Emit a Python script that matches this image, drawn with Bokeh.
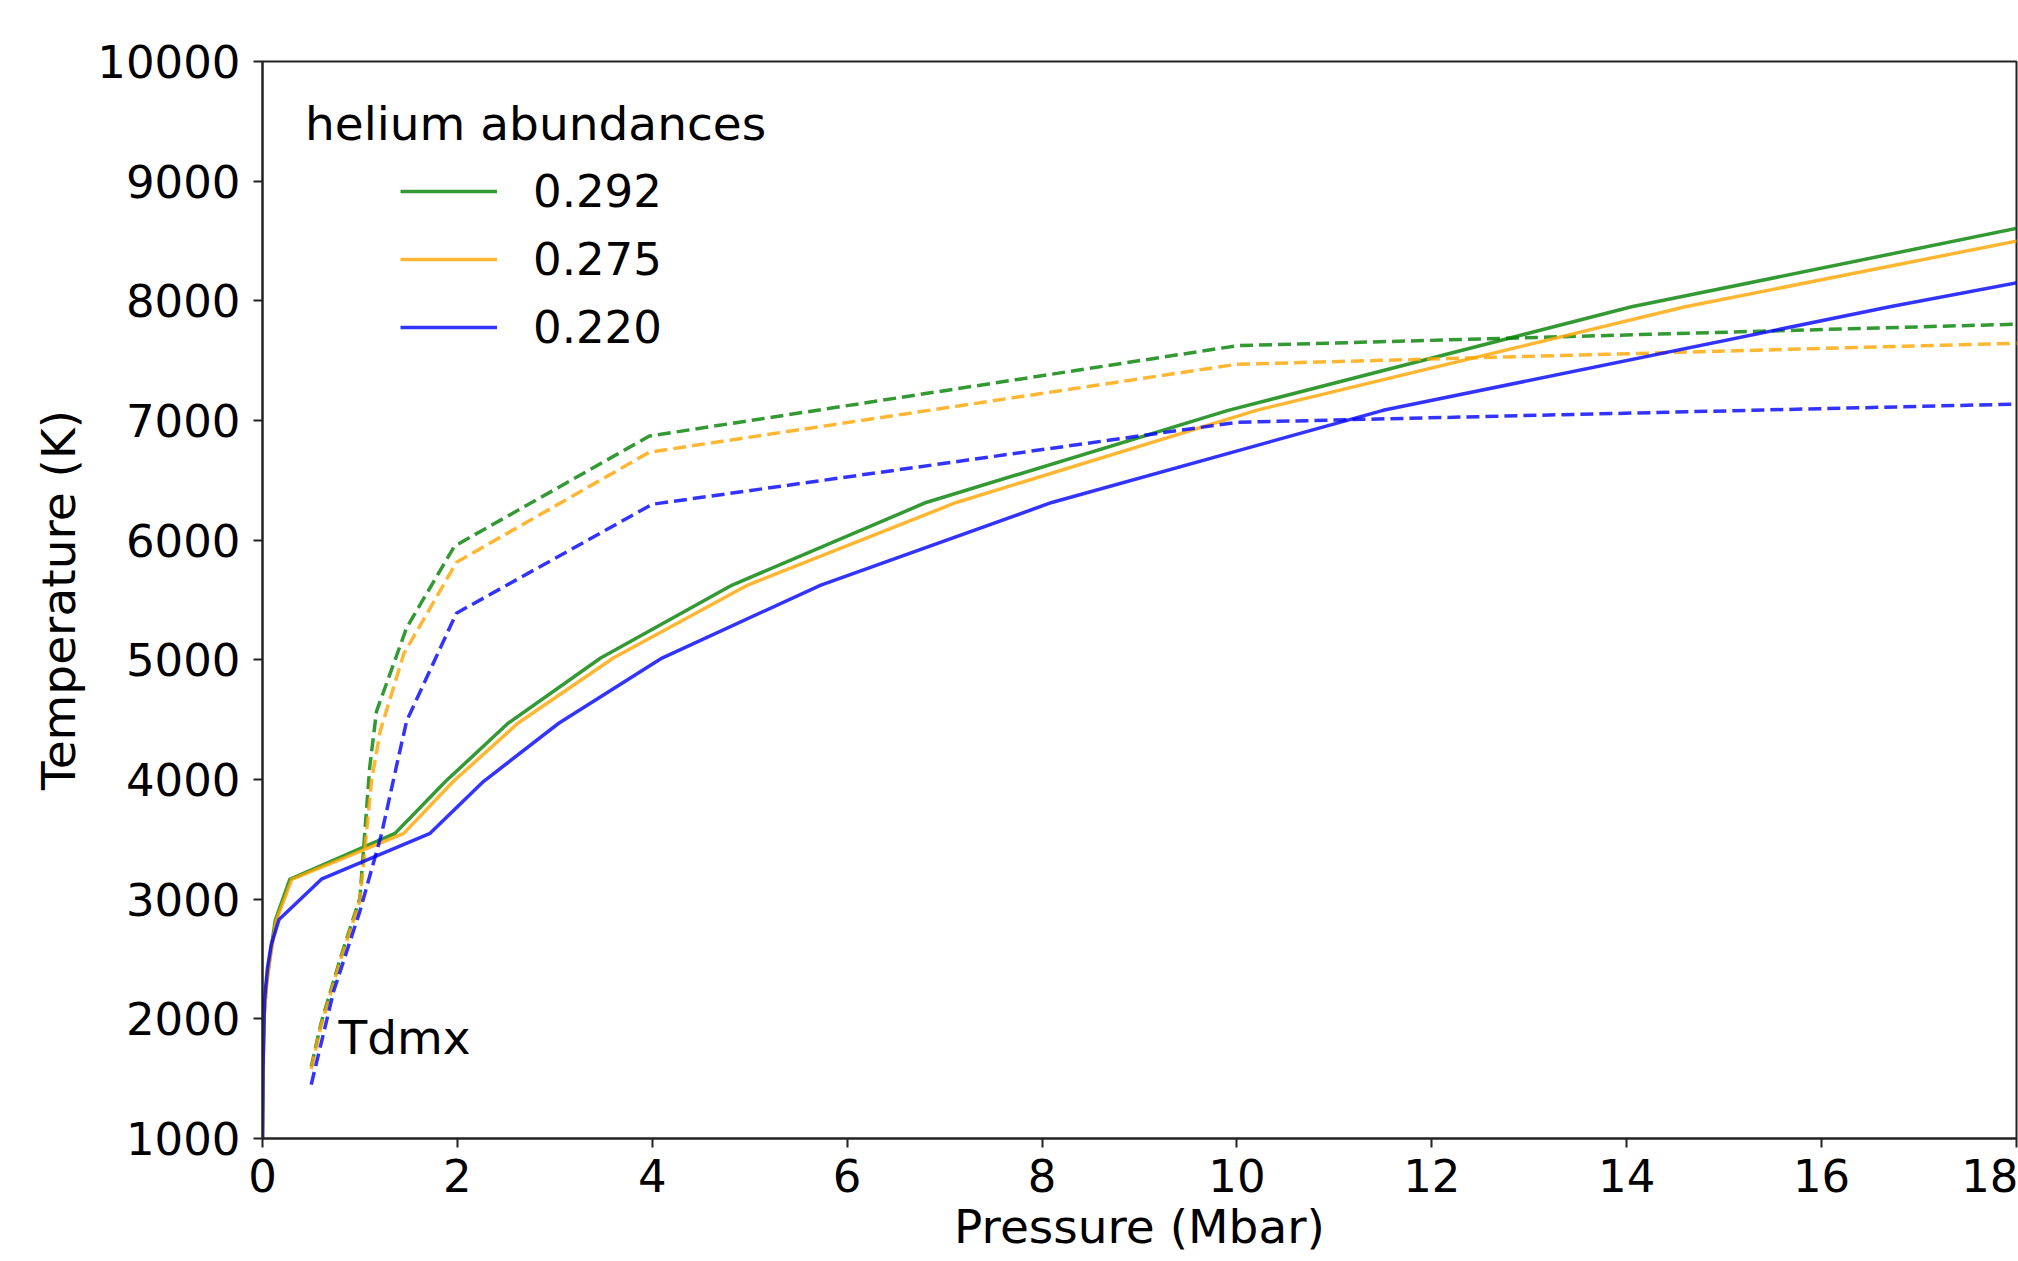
from bokeh.plotting import figure
from bokeh.models import Range1d, FixedTicker, Legend, LegendItem, Label
from bokeh.embed import file_html
from bokeh.resources import INLINE

# ---- data ----
x_ticks = [0, 2, 4, 6, 8, 10, 12, 14, 16, 18]
y_ticks = [1000, 2000, 3000, 4000, 5000, 6000, 7000, 8000, 9000, 10000]

series_labels = ["0.292", "0.275", "0.220"]
series_colors = ["green", "orange", "blue"]

# solid: temperature profile, pressure (Mbar) / temperature (K)
P_292 = [0.0, 0.005, 0.015, 0.04, 0.075, 0.13, 0.28, 1.36, 1.88, 2.52, 3.47, 4.82, 6.81, 9.91, 14.05, 19.9]
T_292 = [1000, 1590, 2000, 2290, 2510, 2820, 3165, 3550, 3985, 4470, 5015, 5625, 6315, 7085, 7950, 8920]
P_275 = [0.0, 0.005, 0.015, 0.04, 0.08, 0.14, 0.30, 1.45, 1.96, 2.62, 3.60, 4.98, 7.12, 10.2, 14.6, 20.6]
T_275 = [1000, 1590, 2000, 2270, 2510, 2820, 3165, 3550, 3985, 4470, 5015, 5625, 6315, 7085, 7950, 8920]
P_220 = [0.0, 0.006, 0.02, 0.05, 0.09, 0.17, 0.61, 1.72, 2.27, 3.04, 4.10, 5.73, 8.10, 11.5, 16.7, 23.0]
T_220 = [1000, 1590, 2150, 2420, 2620, 2830, 3170, 3550, 3985, 4470, 5015, 5625, 6315, 7085, 7950, 8920]

# dashed: Tdmx curves
Pd_292 = [0.5, 0.6, 0.8, 1.0, 1.05, 1.1, 1.17, 1.48, 1.97, 3.97, 10.0, 20.0]
Td_292 = [1600, 1960, 2510, 3010, 3560, 4100, 4570, 5270, 5950, 6870, 7625, 7850]
Pd_275 = [0.5, 0.6, 0.8, 1.0, 1.06, 1.12, 1.21, 1.45, 1.99, 3.97, 10.0, 20.0]
Td_275 = [1580, 1940, 2490, 2990, 3500, 4000, 4410, 5050, 5815, 6735, 7470, 7690]
Pd_220 = [0.5, 0.73, 1.0, 1.22, 1.41, 1.48, 1.99, 4.0, 10.0, 20.0]
Td_220 = [1450, 2230, 2900, 3540, 4240, 4490, 5390, 6300, 6985, 7175]

FONT = "DejaVu Sans"
FS = "45px"
FS_BIG = "47px"

p = figure(width=2018, height=1261, output_backend="svg", toolbar_location=None,
           x_range=Range1d(0, 18), y_range=Range1d(1000, 10000),
           min_border_left=262, min_border_right=2, min_border_top=61, min_border_bottom=123,
           background_fill_color="white", border_fill_color="white")

p.xgrid.visible = False
p.ygrid.visible = False
p.outline_line_color = "#222222"
p.outline_line_width = 2
p.outline_line_alpha = 1.0

p.xaxis.ticker = FixedTicker(ticks=x_ticks)
p.yaxis.ticker = FixedTicker(ticks=y_ticks)
p.xaxis.axis_label = "Pressure (Mbar)"
p.yaxis.axis_label = "Temperature (K)"

for ax in (p.xaxis, p.yaxis):
    ax.axis_line_color = "#222222"
    ax.axis_line_width = 2
    ax.major_tick_line_color = "#222222"
    ax.major_tick_line_width = 2
    ax.major_tick_out = 9
    ax.major_tick_in = 0
    ax.minor_tick_line_color = None
    ax.major_label_text_font = FONT
    ax.major_label_text_font_size = FS
    ax.major_label_text_color = "black"
    ax.axis_label_text_font = FONT
    ax.axis_label_text_font_size = FS_BIG
    ax.axis_label_text_font_style = "normal"
    ax.axis_label_text_color = "black"

p.xaxis.major_label_standoff = 11
p.xaxis.axis_label_standoff = 4
p.yaxis.major_label_standoff = 13
p.yaxis.axis_label_standoff = 8

solid = [(P_292, T_292), (P_275, T_275), (P_220, T_220)]
dashed = [(Pd_292, Td_292), (Pd_275, Td_275), (Pd_220, Td_220)]

items = []
for (px, ty), (pdx, tdy), col, lab in zip(solid, dashed, series_colors, series_labels):
    r = p.line(x=px, y=ty, line_color=col, line_alpha=0.8, line_width=3.5)
    p.line(x=pdx, y=tdy, line_color=col, line_alpha=0.8, line_width=3.5, line_dash="13 6")
    items.append(LegendItem(label=lab, renderers=[r]))

legend = Legend(items=items, location=(138, 781), padding=0, margin=0,
                border_line_alpha=0, background_fill_alpha=0,
                glyph_width=97, glyph_height=60, label_height=60,
                label_standoff=36, spacing=8,
                label_text_font=FONT, label_text_font_size=FS, label_text_color="black")
p.add_layout(legend)

p.add_layout(Label(x=0.436, y=9480, text="helium abundances", text_font=FONT,
                   text_font_size=FS_BIG, text_baseline="alphabetic", text_color="black"))
p.add_layout(Label(x=0.78, y=1840, text="Tdmx", text_font=FONT,
                   text_font_size=FS_BIG, text_baseline="alphabetic", text_color="black"))

open("out.html", "w").write(file_html(p, INLINE))
